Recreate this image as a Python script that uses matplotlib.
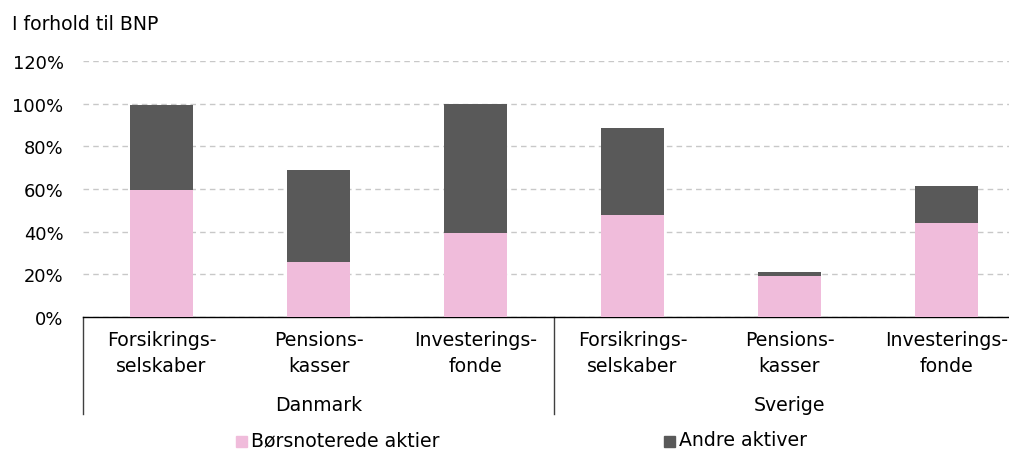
import matplotlib.pyplot as plt
import numpy as np

# data (percent of GDP)
groups = ['Danmark', 'Sverige']
categories = ['Forsikrings-\nselskaber', 'Pensions-\nkasser', 'Investerings-\nfonde'] * 2
listed = [59.5, 26, 39.5, 48, 19, 44]
other = [40, 43, 60.5, 40.5, 2, 17.5]
series_names = ['Børsnoterede aktier', 'Andre aktiver']
colors = ['#F0BCDB', '#595959']
yticks = [0, 20, 40, 60, 80, 100, 120]

W, H = 1009, 452
fig = plt.figure(figsize=(W / 100, H / 100), dpi=100)
plt.rcParams['font.family'] = ['DejaVu Sans']
fs = 13.6

# axes extend past the right edge of the figure, as in the reference
left, right, bottom, top = 83, 1025, 318, 62
ax = fig.add_axes([left / W, 1 - bottom / H, (right - left) / W, (bottom - top) / H])

x = np.arange(len(categories))
ax.bar(x, listed, width=0.4, color=colors[0], label=series_names[0], zorder=3)
ax.bar(x, other, width=0.4, bottom=listed, color=colors[1], label=series_names[1], zorder=3)

ax.set_xlim(-0.5, len(categories) - 0.5)
ax.set_ylim(0, 120)
ax.set_yticks(yticks)
ax.set_yticklabels(['{}%'.format(v) for v in yticks], fontsize=12.9)
ax.tick_params(axis='y', length=0, pad=14)
ax.set_xticks([])
ax.grid(axis='y', color='#C8C8C8', linestyle=(0, (4, 3)), linewidth=1, zorder=0)
for s in ['top', 'right', 'left']:
	ax.spines[s].set_visible(False)
ax.spines['bottom'].set_color('black')
ax.spines['bottom'].set_linewidth(1)

# category and group labels below the axis
for i, c in enumerate(categories):
	ax.text(i, -16.6, c, ha='center', va='center', fontsize=fs, linespacing=1.45)
for g, name in enumerate(groups):
	ax.text(g * 3 + 1, -41, name, ha='center', va='center', fontsize=fs)
for xb in [-0.5, 2.5]:
	ax.plot([xb, xb], [0, -45.5], color='#404040', linewidth=1, clip_on=False)

fig.text(12 / W, 1 - 25 / H, 'I forhold til BNP', fontsize=fs, va='center', ha='left')

# legend
for (lx, name, col) in [(236, series_names[0], colors[0]), (664, series_names[1], colors[1])]:
	fig.patches.append(plt.Rectangle((lx / W, 1 - 448 / H), 11 / W, 11 / H,
		transform=fig.transFigure, color=col, figure=fig))
	fig.text((lx + 15) / W, 1 - 441 / H, name, fontsize=fs, va='center', ha='left')

fig.savefig('out.png', dpi=100)
